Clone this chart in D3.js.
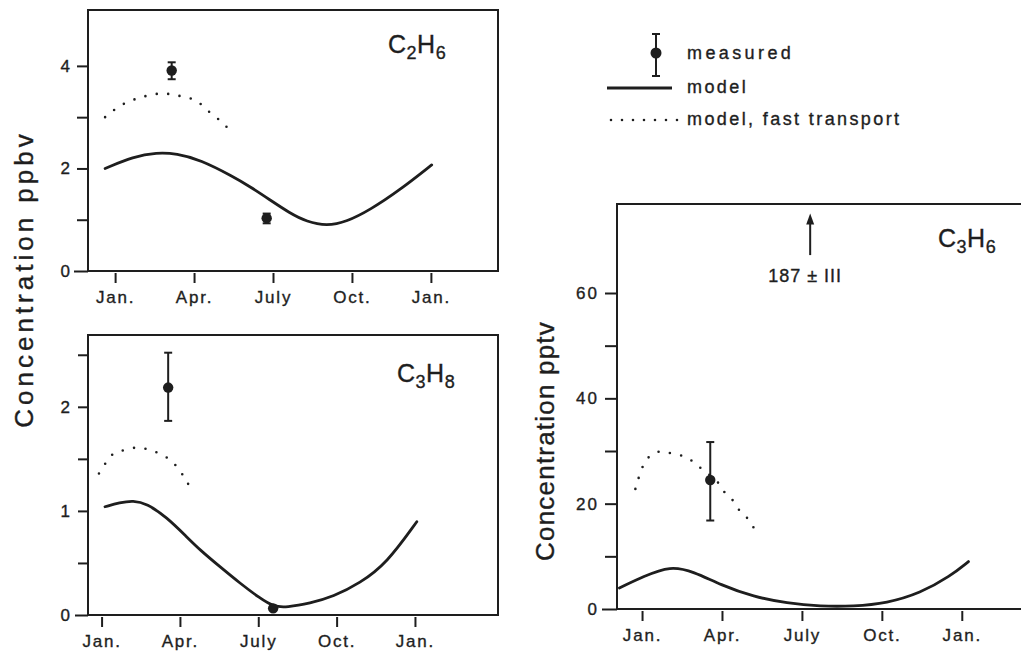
<!DOCTYPE html>
<html>
<head>
<meta charset="utf-8">
<script src="https://cdn.jsdelivr.net/npm/d3@7"></script>
<style>
  html, body { margin: 0; padding: 0; background: #fff; }
  svg { display: block; }
  text { font-family: "Liberation Sans", Arial, Helvetica, sans-serif; fill: #1e1e1e;
         stroke: #1e1e1e; stroke-width: 0.35px; }
</style>
</head>
<body>
<svg id="chart" width="1021" height="657"></svg>
<script>
// ---------------- DATA ----------------
const tickMonths = [0, 3, 6, 9, 12];
const tickMonthLabels = ["Jan.", "Apr.", "July", "Oct.", "Jan."];

// C2H6 (ppbv)
const c2h6ModelMonth = [-0.38, 0.70, 1.58, 2.34, 3.23, 4.49, 5.13, 5.89, 6.65, 7.28, 8.04, 8.80, 9.68, 10.82, 12.03];
const c2h6ModelValue = [2.00, 2.23, 2.31, 2.29, 2.17, 1.84, 1.644, 1.385, 1.125, 0.961, 0.878, 0.961, 1.19, 1.58, 2.07];
const c2h6FastMonth  = [-0.38, 0.19, 0.70, 1.08, 1.52, 1.90, 2.28, 2.66, 3.10, 3.38, 3.73, 4.09, 4.41];
const c2h6FastValue  = [3.00, 3.22, 3.34, 3.40, 3.45, 3.46, 3.43, 3.39, 3.32, 3.19, 3.04, 2.89, 2.71];
const c2h6MeasMonth  = [2.15, 5.76];
const c2h6MeasValue  = [3.91, 1.03];
const c2h6MeasLow    = [3.74, 0.93];
const c2h6MeasHigh   = [4.07, 1.12];
const c2h6YTicks     = [0, 1, 2, 3, 4];
const c2h6YLabels    = [0, 2, 4];

// C3H8 (ppbv)
const c3h8ModelMonth = [0.13, 0.70, 1.21, 1.73, 2.49, 3.26, 3.77, 4.53, 5.30, 6.07, 6.58, 7.09, 7.98, 8.87, 9.89, 10.92, 12.07];
const c3h8ModelValue = [1.04, 1.08, 1.10, 1.07, 0.94, 0.75, 0.624, 0.464, 0.305, 0.160, 0.080, 0.074, 0.112, 0.176, 0.305, 0.497, 0.896];
const c3h8FastMonth  = [-0.10, 0.13, 0.38, 0.73, 1.25, 1.75, 2.20, 2.64, 3.00, 3.29, 3.51];
const c3h8FastValue  = [1.36, 1.45, 1.535, 1.574, 1.606, 1.593, 1.552, 1.488, 1.385, 1.27, 1.168];
const c3h8MeasMonth  = [2.55, 6.57];
const c3h8MeasValue  = [2.185, 0.064];
const c3h8MeasLow    = [1.865, 0.064];
const c3h8MeasHigh   = [2.52, 0.064];
const c3h8YTicks     = [0, 0.5, 1, 1.5, 2, 2.5];
const c3h8YLabels    = [0, 1, 2];

// C3H6 (pptv)
const c3h6ModelMonth = [-0.85, 0.06, 1.06, 1.94, 2.94, 4.19, 5.44, 6.69, 7.94, 9.19, 10.44, 11.56, 12.25];
const c3h6ModelValue = [4.0, 6.2, 8.2, 7.1, 4.6, 2.3, 1.1, 0.5, 0.5, 1.1, 3.0, 6.2, 9.0];
const c3h6FastMonth  = [-0.25, 0.04, 0.29, 0.66, 1.06, 1.50, 1.85, 2.19, 2.87, 3.12, 3.41, 3.66, 3.94, 4.16, 4.36];
const c3h6FastValue  = [22.8, 27.2, 29.0, 29.9, 29.6, 29.1, 28.2, 26.8, 23.9, 22.0, 20.6, 18.7, 17.3, 15.7, 13.8];
const c3h6MeasMonth  = [2.56];
const c3h6MeasValue  = [24.5];
const c3h6MeasLow    = [16.8];
const c3h6MeasHigh   = [31.7];
const c3h6YTicks     = [0, 10, 20, 30, 40, 50, 60];
const c3h6YLabels    = [0, 20, 40, 60];
const c3h6OffscaleMonth = 6.31;
const c3h6OffscaleFrom  = 67.2;
const c3h6OffscaleTo    = 75.1;
const c3h6OffscaleLabel = "187 ± III";

const legendLabels = ["measured", "model", "model, fast transport"];

// ---------------- DRAW ----------------
const svg = d3.select("#chart");
const INK = "#1e1e1e";

const zip = (xs, ys) => xs.map((x, i) => [x, ys[i]]);

const panels = [
  { box: {l: 88, r: 498, t: 10, b: 271}, xDom: [-1.03, 14.55], yDom: [0, 5.09],
    yTicks: c2h6YTicks, yLabels: c2h6YLabels, yTickSize: 11, yPad: 5,
    model: zip(c2h6ModelMonth, c2h6ModelValue), fast: zip(c2h6FastMonth, c2h6FastValue),
    meas: c2h6MeasMonth.map((m, i) => ({m, v: c2h6MeasValue[i], lo: c2h6MeasLow[i], hi: c2h6MeasHigh[i]})),
    name: ["C", "2", "H", "6"], nameX: 388, nameY: 53 },
  { box: {l: 88, r: 498, t: 335, b: 615}, xDom: [-0.52, 15.18], yDom: [0, 2.69],
    yTicks: c3h8YTicks, yLabels: c3h8YLabels, yTickSize: 10, yPad: 6,
    model: zip(c3h8ModelMonth, c3h8ModelValue), fast: zip(c3h8FastMonth, c3h8FastValue),
    meas: c3h8MeasMonth.map((m, i) => ({m, v: c3h8MeasValue[i], lo: c3h8MeasLow[i], hi: c3h8MeasHigh[i]})),
    name: ["C", "3", "H", "8"], nameX: 397, nameY: 382 },
  { box: {l: 617, r: 1030, t: 204, b: 609}, xDom: [-0.94, 14.56], yDom: [0, 76.9],
    yTicks: c3h6YTicks, yLabels: c3h6YLabels, yTickSize: 12, yPad: 6,
    model: zip(c3h6ModelMonth, c3h6ModelValue), fast: zip(c3h6FastMonth, c3h6FastValue),
    meas: c3h6MeasMonth.map((m, i) => ({m, v: c3h6MeasValue[i], lo: c3h6MeasLow[i], hi: c3h6MeasHigh[i]})),
    name: ["C", "3", "H", "6"], nameX: 938, nameY: 247, offscale: true }
];

panels.forEach(p => {
  const x = d3.scaleLinear().domain(p.xDom).range([p.box.l, p.box.r]);
  const y = d3.scaleLinear().domain(p.yDom).range([p.box.b, p.box.t]);
  const g = svg.append("g");

  // frame
  g.append("rect")
    .attr("x", p.box.l).attr("y", p.box.t)
    .attr("width", p.box.r - p.box.l).attr("height", p.box.b - p.box.t)
    .attr("fill", "none").attr("stroke", INK).attr("stroke-width", 2);

  // y axis
  const ya = g.append("g").attr("transform", `translate(${p.box.l},0)`)
    .call(d3.axisLeft(y).tickValues(p.yTicks).tickSize(p.yTickSize).tickPadding(p.yPad)
      .tickFormat(d => p.yLabels.includes(d) ? d3.format("d")(d) : ""));
  ya.select(".domain").remove();
  ya.selectAll(".tick line").attr("stroke", INK).attr("stroke-width", 2);
  ya.selectAll(".tick text").style("font-size", "17px").style("letter-spacing", "2px")
    .attr("fill", INK);
  ya.selectAll(".tick").filter(d => d === 0).select("line").attr("x2", -p.yTickSize - 3);

  // x axis
  const xa = g.append("g").attr("transform", `translate(0,${p.box.b})`)
    .call(d3.axisBottom(x).tickValues(tickMonths).tickSize(12).tickPadding(8)
      .tickFormat((d, i) => tickMonthLabels[i]));
  xa.select(".domain").remove();
  xa.selectAll(".tick line").attr("stroke", INK).attr("stroke-width", 2).attr("y1", 2);
  xa.selectAll(".tick text").style("font-size", "17px").style("letter-spacing", "1.8px")
    .attr("fill", INK);

  const smooth = d3.line().x(d => x(d[0])).y(d => y(d[1])).curve(d3.curveBasis);
  const curve = d3.line().x(d => x(d[0])).y(d => y(d[1])).curve(d3.curveCatmullRom.alpha(0.5));

  // model (solid)
  g.append("path").datum(p.model).attr("d", smooth)
    .attr("fill", "none").attr("stroke", INK).attr("stroke-width", 2.8)
    .attr("stroke-linecap", "round").attr("stroke-linejoin", "round");

  // fast transport (dotted)
  g.append("path").datum(p.fast).attr("d", curve)
    .attr("fill", "none").attr("stroke", INK).attr("stroke-width", 2.6)
    .attr("stroke-linecap", "round").attr("stroke-dasharray", "0,11.5");

  // measured with error bars
  const mg = g.selectAll(".meas").data(p.meas).join("g");
  mg.filter(d => d.hi !== d.lo).append("line")
    .attr("x1", d => x(d.m)).attr("x2", d => x(d.m))
    .attr("y1", d => y(d.lo)).attr("y2", d => y(d.hi))
    .attr("stroke", INK).attr("stroke-width", 2);
  ["lo", "hi"].forEach(k => {
    mg.filter(d => d.hi !== d.lo).append("line")
      .attr("x1", d => x(d.m) - 4).attr("x2", d => x(d.m) + 4)
      .attr("y1", d => y(d[k])).attr("y2", d => y(d[k]))
      .attr("stroke", INK).attr("stroke-width", 2);
  });
  mg.append("circle").attr("cx", d => x(d.m)).attr("cy", d => y(d.v)).attr("r", 5.2)
    .attr("fill", INK);

  // species name
  const t = g.append("text").attr("x", p.nameX).attr("y", p.nameY)
    .style("font-size", "25px").style("letter-spacing", "0.5px");
  t.append("tspan").text(p.name[0]);
  t.append("tspan").attr("dy", 6).style("font-size", "18px").text(p.name[1]);
  t.append("tspan").attr("dy", -6).text(p.name[2]);
  t.append("tspan").attr("dy", 6).style("font-size", "18px").text(p.name[3]);

  if (p.offscale) {
    const ax = x(c3h6OffscaleMonth);
    g.append("line").attr("x1", ax).attr("x2", ax)
      .attr("y1", y(c3h6OffscaleFrom)).attr("y2", y(c3h6OffscaleTo) + 6)
      .attr("stroke", INK).attr("stroke-width", 2);
    const ty = y(c3h6OffscaleTo);
    g.append("path").attr("d", `M${ax},${ty} L${ax - 4},${ty + 11} L${ax + 4},${ty + 11} Z`)
      .attr("fill", INK);
    g.append("text").attr("x", ax - 5).attr("y", y(c3h6OffscaleFrom) + 27)
      .attr("text-anchor", "middle").style("font-size", "18px").style("letter-spacing", "1px")
      .text(c3h6OffscaleLabel);
  }
});

// y-axis titles
svg.append("text").attr("transform", "translate(33,279) rotate(-90)")
  .attr("text-anchor", "middle").style("font-size", "26px").style("letter-spacing", "4px")
  .text("Concentration ppbv");
svg.append("text").attr("transform", "translate(554,441) rotate(-90)")
  .attr("text-anchor", "middle").style("font-size", "26px").style("letter-spacing", "1.2px")
  .text("Concentration pptv");

// legend
const lg = svg.append("g");
const lx = 656;
lg.append("line").attr("x1", lx).attr("x2", lx).attr("y1", 34).attr("y2", 76)
  .attr("stroke", INK).attr("stroke-width", 2);
[34, 76].forEach(yy => lg.append("line").attr("x1", lx - 4).attr("x2", lx + 4)
  .attr("y1", yy).attr("y2", yy).attr("stroke", INK).attr("stroke-width", 2));
lg.append("circle").attr("cx", lx).attr("cy", 53).attr("r", 5.5).attr("fill", INK);
lg.append("line").attr("x1", 607).attr("x2", 672).attr("y1", 88).attr("y2", 88)
  .attr("stroke", INK).attr("stroke-width", 2.8);
lg.append("line").attr("x1", 611).attr("x2", 678).attr("y1", 120).attr("y2", 120)
  .attr("stroke", INK).attr("stroke-width", 2.6).attr("stroke-linecap", "round")
  .attr("stroke-dasharray", "0,11");
lg.selectAll(".lt").data(legendLabels).join("text")
  .attr("x", 687).attr("y", (d, i) => [59, 93, 125][i])
  .style("font-size", "18px").style("letter-spacing", (d, i) => i === 0 ? "3.4px" : "2.4px")
  .text(d => d);
</script>
</body>
</html>
